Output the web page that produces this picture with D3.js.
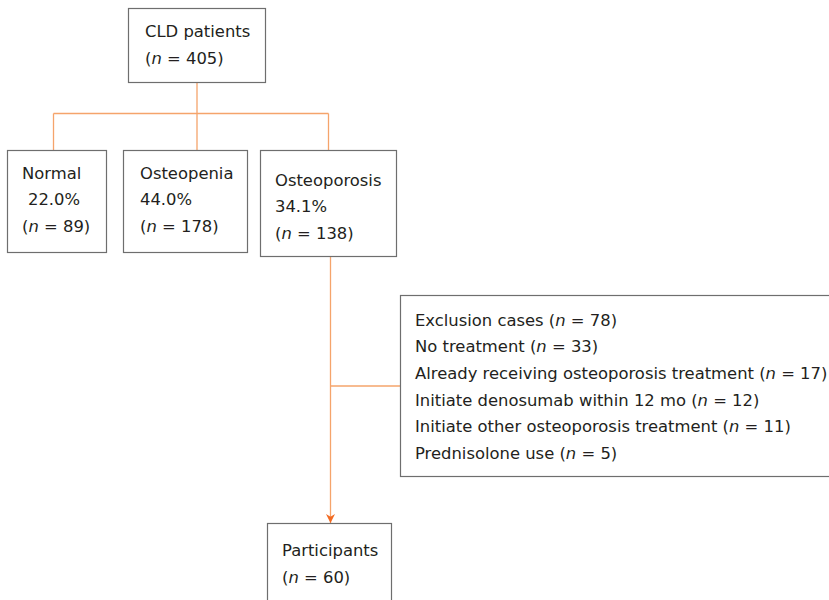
<!DOCTYPE html>
<html>
<head>
<meta charset="utf-8">
<script src="https://cdn.jsdelivr.net/npm/d3@7"></script>
<style>
  body { margin: 0; background: #fff; }
  svg text { font-family: "DejaVu Sans", Verdana, sans-serif; font-size: 16.4px; fill: #231f20; }
</style>
</head>
<body>
<svg id="chart" width="829" height="600"></svg>
<script>
// data
var rootLabel = "CLD patients";
var rootN = 405;
var groups = ["Normal", "Osteopenia", "Osteoporosis"];
var groupPct = ["22.0%", "44.0%", "34.1%"];
var groupN = [89, 178, 138];
var exclusionLabels = ["Exclusion cases", "No treatment", "Already receiving osteoporosis treatment",
  "Initiate denosumab within 12 mo", "Initiate other osteoporosis treatment", "Prednisolone use"];
var exclusionN = [78, 33, 17, 12, 11, 5];
var finalLabel = "Participants";
var finalN = 60;

// layout
var lineColor = "#f5a46b";
var arrowColor = "#f26a21";
var boxStroke = "#6e6e6e";
var rowH = 26.6;

var svg = d3.select("#chart");

svg.append("defs").append("marker")
  .attr("id", "arrow")
  .attr("viewBox", "0 0 10 10")
  .attr("refX", 10).attr("refY", 5)
  .attr("markerWidth", 12).attr("markerHeight", 9)
  .attr("markerUnits", "userSpaceOnUse")
  .attr("orient", "auto")
  .append("path")
  .attr("d", "M0,0 L10,5 L0,10 L3,5 Z")
  .attr("fill", arrowColor);

var rootBox = {x: 128, y: 8, w: 137, h: 74};
var groupBoxes = [
  {x: 7, y: 150, w: 99, h: 102, tx: [22, 28, 22], ty: 173},
  {x: 123, y: 150, w: 124, h: 102, tx: [140, 140, 140], ty: 173},
  {x: 260, y: 150, w: 136, h: 106, tx: [275, 275, 275], ty: 180}
];
var exclBox = {x: 400, y: 295, w: 440, h: 181};
var finalBox = {x: 267, y: 523, w: 124, h: 90};

function drawBox(b) {
  svg.append("rect")
    .attr("x", b.x + 0.5).attr("y", b.y + 0.5)
    .attr("width", b.w).attr("height", b.h)
    .attr("fill", "#fff")
    .attr("stroke", boxStroke)
    .attr("stroke-width", 1.2);
}

// n-line with italic n
function nText(x, y, n) {
  var t = svg.append("text").attr("x", x).attr("y", y).attr("dy", "0.35em");
  t.append("tspan").text("(");
  t.append("tspan").attr("font-style", "italic").text("n");
  t.append("tspan").text(" = " + n + ")");
  return t;
}

// connectors
var midX = rootBox.x + rootBox.w / 2 + 0.5;
var busY = 113.5;
var drops = [53.5, midX, 328.5];
svg.append("line").attr("x1", midX).attr("x2", midX)
  .attr("y1", rootBox.y + rootBox.h).attr("y2", busY)
  .attr("stroke", lineColor).attr("stroke-width", 1.3);
svg.append("line").attr("x1", drops[0]).attr("x2", drops[2])
  .attr("y1", busY).attr("y2", busY)
  .attr("stroke", lineColor).attr("stroke-width", 1.3);
svg.selectAll(".drop").data(drops).enter().append("line")
  .attr("x1", function(d) { return d; }).attr("x2", function(d) { return d; })
  .attr("y1", busY).attr("y2", 150)
  .attr("stroke", lineColor).attr("stroke-width", 1.3);

var trunkX = 330.5;
var branchY = exclBox.y + exclBox.h / 2 + 0.5;
svg.append("line").attr("x1", trunkX).attr("x2", trunkX)
  .attr("y1", 256).attr("y2", finalBox.y)
  .attr("stroke", lineColor).attr("stroke-width", 1.3)
  .attr("marker-end", "url(#arrow)");
svg.append("line").attr("x1", trunkX).attr("x2", exclBox.x)
  .attr("y1", branchY).attr("y2", branchY)
  .attr("stroke", lineColor).attr("stroke-width", 1.3);

// root
drawBox(rootBox);
svg.append("text").attr("x", 145).attr("y", 31).attr("dy", "0.35em").text(rootLabel);
nText(145, 58, rootN);

// groups
groupBoxes.forEach(function(b, i) {
  drawBox(b);
  svg.append("text").attr("x", b.tx[0]).attr("y", b.ty).attr("dy", "0.35em").text(groups[i]);
  svg.append("text").attr("x", b.tx[1]).attr("y", b.ty + rowH).attr("dy", "0.35em").text(groupPct[i]);
  nText(b.tx[2], b.ty + 2 * rowH, groupN[i]);
});

// exclusions
drawBox(exclBox);
exclusionLabels.forEach(function(lab, i) {
  var t = svg.append("text").attr("x", 415).attr("y", 320 + i * rowH).attr("dy", "0.35em");
  t.append("tspan").text(lab + " (");
  t.append("tspan").attr("font-style", "italic").text("n");
  t.append("tspan").text(" = " + exclusionN[i] + ")");
});

// participants
drawBox(finalBox);
svg.append("text").attr("x", 282).attr("y", 550).attr("dy", "0.35em").text(finalLabel);
nText(282, 577, finalN);
</script>
</body>
</html>
